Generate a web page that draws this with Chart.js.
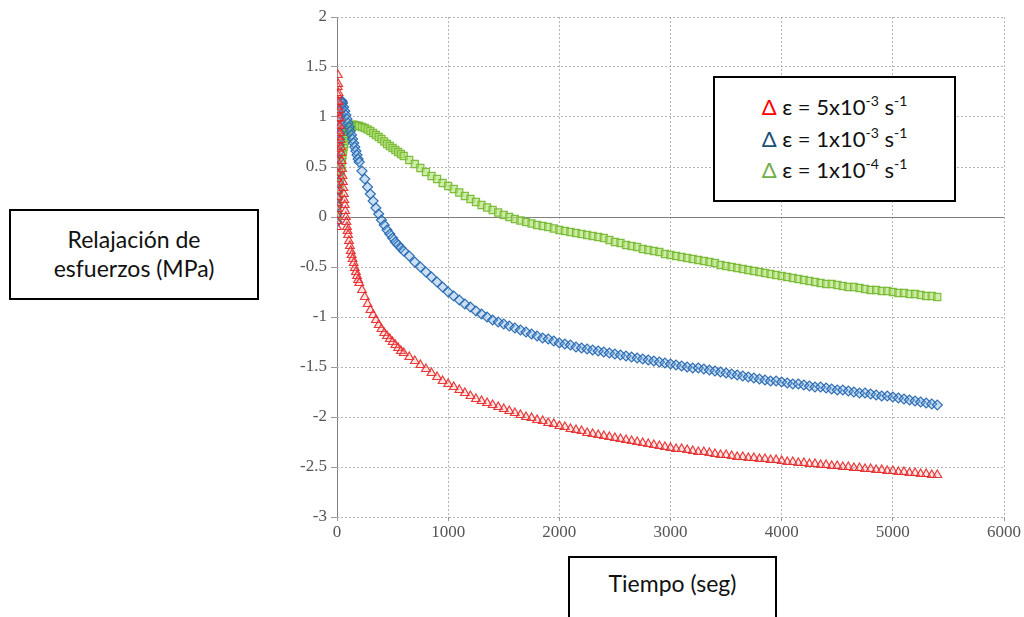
<!DOCTYPE html>
<html lang="es">
<head>
<meta charset="utf-8">
<title>Relajación de esfuerzos</title>
<script src="https://cdn.jsdelivr.net/npm/chart.js@4.4.1/dist/chart.umd.min.js"></script>
<style>
  body { margin: 0; background: #fff; }
  #wrap { position: relative; width: 1024px; height: 617px; overflow: hidden; }
  #relaxChart { position: absolute; left: 0; top: 0; }
  .box {
    position: absolute;
    box-sizing: border-box;
    border: 2px solid #000;
    background: #fff;
    font-family: Lato, "Noto Sans", sans-serif;
    color: #111;
    text-align: center;
  }
  #yBox { left: 9px; top: 209px; width: 250px; height: 91px; font-size: 23px; line-height: 29px; padding-top: 14px; }
  #xBox { left: 568px; top: 556px; width: 209px; height: 80px; font-size: 23px; line-height: 29px; padding-top: 11px; }
  #legendBox { left: 713px; top: 76px; width: 243px; height: 126px; font-size: 22px; line-height: 31.5px; padding-top: 13px; }
  #legendBox sup { font-size: 14px; vertical-align: 9px; line-height: 0; }
  .d1 { color: #ff0000; }
  .d2 { color: #1f4e79; }
  .d3 { color: #70ad47; }
</style>
</head>
<body>
<div id="wrap">
  <canvas id="relaxChart" width="1024" height="617"></canvas>
  <div class="box" id="yBox">Relajación de<br>esfuerzos (MPa)</div>
  <div class="box" id="xBox">Tiempo (seg)</div>
  <div class="box" id="legendBox">
    <span class="d1">Δ</span> ε = 5x10<sup>-3</sup> s<sup>-1</sup><br>
    <span class="d2">Δ</span> ε = 1x10<sup>-3</sup> s<sup>-1</sup><br>
    <span class="d3">Δ</span> ε = 1x10<sup>-4</sup> s<sup>-1</sup>
  </div>
</div>
<script>
// Carga inicial y primer descenso (t < 200 s), cada velocidad con sus tiempos
const redLoadTimes = [
  0, 0.3, 0.6, 0.9, 1.2, 1.5, 1.8, 2.1, 2.4, 2.7,
  3.0, 3.3, 3.6, 3.9, 4.2, 4.5, 4.8, 5.1, 5.4, 5.7,
  6.0, 6.3, 6.6, 7.0, 8, 11, 14, 17, 20, 23,
  26, 29, 32, 35, 38, 42, 46, 50, 54, 58,
  62, 66, 70, 75, 80, 85, 90, 95, 100, 108,
  116, 124, 132, 140, 150, 160, 170, 180, 190
];
const redLoad = [
  -0.10, -0.04, 0.02, 0.08, 0.14, 0.20, 0.26, 0.32, 0.38, 0.44,
  0.50, 0.56, 0.62, 0.68, 0.74, 0.80, 0.86, 0.92, 0.98, 1.04,
  1.10, 1.16, 1.22, 1.30, 1.42, 1.33, 1.24, 1.15, 1.07, 0.99,
  0.91, 0.84, 0.77, 0.70, 0.64, 0.56, 0.48, 0.41, 0.35, 0.29,
  0.23, 0.17, 0.12, 0.06, 0.00, -0.05, -0.10, -0.14, -0.18, -0.24,
  -0.29, -0.34, -0.38, -0.42, -0.46, -0.51, -0.55, -0.59, -0.63
];

const blueLoadTimes = [
  0, 2, 4, 6, 8, 10, 12, 14, 16, 18,
  20, 22, 24, 26, 28, 30, 32, 34, 36, 38,
  40, 42, 44, 50, 60, 70, 80, 90, 100, 110,
  120, 130, 140, 150, 160, 170, 180, 190
];
const blueLoad = [
  -0.05, 0.03, 0.11, 0.19, 0.27, 0.35, 0.43, 0.51, 0.58, 0.65,
  0.72, 0.78, 0.84, 0.90, 0.95, 0.99, 1.03, 1.07, 1.10, 1.12,
  1.14, 1.15, 1.16, 1.14, 1.10, 1.06, 1.02, 0.98, 0.94, 0.90,
  0.86, 0.82, 0.78, 0.74, 0.70, 0.66, 0.62, 0.58
];

const greenLoadTimes = [
  0, 5, 10, 15, 20, 25, 30, 35, 40, 45,
  50, 55, 60, 65, 70, 75, 80, 85, 90, 95,
  100, 105, 110, 115, 120, 125, 130, 135, 140, 145,
  160, 175, 190
];
const greenLoad = [
  0.00, 0.07, 0.14, 0.21, 0.28, 0.34, 0.40, 0.46, 0.52, 0.57,
  0.62, 0.66, 0.70, 0.73, 0.76, 0.79, 0.81, 0.83, 0.85, 0.86,
  0.87, 0.88, 0.89, 0.90, 0.905, 0.91, 0.915, 0.92, 0.92, 0.92,
  0.92, 0.915, 0.91
];

// Relajación (t >= 200 s), tiempos comunes a las tres curvas
const relaxTimes = [
  200, 225, 250, 275, 300, 325, 350, 375, 400, 425,
  450, 475, 500, 525, 550, 575, 600, 650,
  700, 750, 800, 850, 900, 950, 1000, 1050, 1100, 1150,
  1200, 1250, 1300, 1350, 1400, 1450, 1500, 1550, 1600, 1650,
  1700, 1750, 1800, 1850, 1900, 1950, 2000, 2050, 2100, 2150,
  2200, 2250, 2300, 2350, 2400, 2450, 2500, 2550, 2600, 2650,
  2700, 2750, 2800, 2850, 2900, 2950, 3000, 3050, 3100, 3150,
  3200, 3250, 3300, 3350, 3400, 3450, 3500, 3550, 3600, 3650,
  3700, 3750, 3800, 3850, 3900, 3950, 4000, 4050, 4100, 4150,
  4200, 4250, 4300, 4350, 4400, 4450, 4500, 4550, 4600, 4650,
  4700, 4750, 4800, 4850, 4900, 4950, 5000, 5050, 5100, 5150,
  5200, 5250, 5300, 5350, 5400
];

const redRelax = [
  -0.66, -0.73, -0.80, -0.87, -0.93, -0.98, -1.03, -1.08, -1.12, -1.16,
  -1.19, -1.22, -1.25, -1.28, -1.31, -1.34, -1.36, -1.40,
  -1.44, -1.48, -1.52, -1.56, -1.60, -1.64, -1.67, -1.70, -1.73, -1.76,
  -1.79, -1.82, -1.84, -1.86, -1.88, -1.90, -1.92, -1.94, -1.96, -1.98,
  -2.00, -2.01, -2.03, -2.04, -2.06, -2.07, -2.09, -2.10, -2.12, -2.13,
  -2.14, -2.16, -2.17, -2.18, -2.19, -2.20, -2.21, -2.22, -2.23, -2.24,
  -2.25, -2.26, -2.27, -2.28, -2.29, -2.30, -2.31, -2.32, -2.32, -2.33,
  -2.34, -2.35, -2.35, -2.36, -2.37, -2.38, -2.38, -2.39, -2.40, -2.40,
  -2.41, -2.41, -2.42, -2.42, -2.43, -2.43, -2.44, -2.45, -2.45, -2.46,
  -2.46, -2.47, -2.47, -2.48, -2.48, -2.49, -2.49, -2.50, -2.50, -2.51,
  -2.51, -2.52, -2.52, -2.53, -2.53, -2.54, -2.54, -2.55, -2.55, -2.56,
  -2.56, -2.57, -2.57, -2.58, -2.58
];

const blueRelax = [
  0.55, 0.46, 0.38, 0.30, 0.23, 0.16, 0.09, 0.03, -0.03, -0.08,
  -0.13, -0.17, -0.21, -0.25, -0.28, -0.31, -0.34, -0.39,
  -0.45, -0.50, -0.55, -0.60, -0.65, -0.70, -0.75, -0.79, -0.83, -0.87,
  -0.90, -0.94, -0.97, -1.00, -1.03, -1.05, -1.07, -1.09, -1.11, -1.13,
  -1.15, -1.17, -1.19, -1.21, -1.22, -1.24, -1.26, -1.27, -1.28, -1.30,
  -1.31, -1.32, -1.33, -1.34, -1.35, -1.36, -1.37, -1.38, -1.39, -1.40,
  -1.41, -1.42, -1.43, -1.44, -1.45, -1.46, -1.47, -1.48, -1.49, -1.50,
  -1.51, -1.51, -1.52, -1.53, -1.54, -1.55, -1.56, -1.57, -1.58, -1.59,
  -1.60, -1.61, -1.62, -1.63, -1.64, -1.64, -1.65, -1.66, -1.67, -1.67,
  -1.68, -1.69, -1.70, -1.70, -1.71, -1.72, -1.73, -1.73, -1.74, -1.75,
  -1.76, -1.76, -1.77, -1.78, -1.79, -1.79, -1.80, -1.81, -1.82, -1.83,
  -1.84, -1.85, -1.86, -1.87, -1.88
];

const greenRelax = [
  0.91, 0.90, 0.89, 0.875, 0.86, 0.84, 0.82, 0.80, 0.78, 0.755,
  0.73, 0.71, 0.69, 0.67, 0.65, 0.63, 0.61, 0.57,
  0.53, 0.49, 0.45, 0.41, 0.38, 0.34, 0.31, 0.28, 0.245, 0.21,
  0.18, 0.15, 0.12, 0.095, 0.07, 0.045, 0.02, 0.00, -0.02, -0.035,
  -0.05, -0.065, -0.08, -0.09, -0.10, -0.115, -0.13, -0.14, -0.15, -0.16,
  -0.17, -0.18, -0.19, -0.20, -0.21, -0.23, -0.25, -0.26, -0.28, -0.29,
  -0.30, -0.32, -0.33, -0.34, -0.35, -0.37, -0.38, -0.39, -0.40, -0.41,
  -0.42, -0.43, -0.44, -0.45, -0.46, -0.48, -0.49, -0.50, -0.51, -0.52,
  -0.53, -0.54, -0.55, -0.56, -0.57, -0.58, -0.59, -0.60, -0.61, -0.62,
  -0.63, -0.64, -0.65, -0.66, -0.67, -0.67, -0.68, -0.69, -0.70, -0.70,
  -0.71, -0.72, -0.73, -0.73, -0.74, -0.74, -0.75, -0.76, -0.76, -0.77,
  -0.77, -0.78, -0.79, -0.79, -0.80
];

// Ejes
const xTickStep = 1000;
const yTickStep = 0.5;

/**
 * Une la carga y la relajación en puntos {x, y}
 */
function buildPoints(loadTimes, loadVals, relaxVals) {
  const pts = loadTimes.map((t, i) => ({ x: t, y: loadVals[i] }));
  relaxTimes.forEach((t, i) => pts.push({ x: t, y: relaxVals[i] }));
  return pts;
}

// líneas de la cuadrícula: punteadas, salvo el cero
function gridDash(ctx) {
  return (ctx.tick && ctx.tick.value === 0) ? [] : [2, 2];
}
function gridColor(ctx) {
  return (ctx.tick && ctx.tick.value === 0) ? '#808080' : '#b4b4b4';
}

Chart.defaults.font.family = "'Liberation Serif', 'Times New Roman', serif";
const tickFont = { family: "'Liberation Serif', 'Times New Roman', serif", size: 17 };

new Chart(document.getElementById('relaxChart').getContext('2d'), {
  type: 'scatter',
  data: {
    datasets: [
      {
        label: '5x10-3',
        data: buildPoints(redLoadTimes, redLoad, redRelax),
        pointStyle: 'triangle',
        pointRadius: 5,
        borderWidth: 1.2,
        borderColor: 'rgba(228, 40, 40, 0.9)',
        backgroundColor: 'rgba(255, 150, 150, 0.25)'
      },
      {
        label: '1x10-3',
        data: buildPoints(blueLoadTimes, blueLoad, blueRelax),
        pointStyle: 'rectRot',
        pointRadius: 5,
        borderWidth: 1.2,
        borderColor: 'rgba(40, 105, 175, 0.95)',
        backgroundColor: 'rgba(110, 165, 225, 0.35)'
      },
      {
        label: '1x10-4',
        data: buildPoints(greenLoadTimes, greenLoad, greenRelax),
        pointStyle: 'rect',
        pointRadius: 5,
        borderWidth: 1.2,
        borderColor: 'rgba(120, 185, 55, 0.95)',
        backgroundColor: 'rgba(175, 225, 110, 0.6)'
      }
    ]
  },
  options: {
    responsive: false,
    animation: false,
    layout: { padding: { top: 17, right: 20, left: 0, bottom: 0 } },
    plugins: {
      legend: { display: false },
      tooltip: { enabled: false }
    },
    scales: {
      x: {
        type: 'linear',
        min: 0,
        max: 6000,
        ticks: {
          stepSize: xTickStep,
          font: tickFont,
          color: '#555',
          padding: 1,
          maxRotation: 0,
          callback: function (v) { return String(v); }
        },
        grid: { color: gridColor, lineWidth: 1, tickLength: 4, tickColor: '#999' },
        border: { display: false, dash: gridDash },
        afterFit: function (scale) { scale.height = 100; }
      },
      y: {
        min: -3,
        max: 2,
        ticks: {
          stepSize: yTickStep,
          font: tickFont,
          color: '#555',
          padding: 4,
          callback: function (v) { return String(Math.round(v * 10) / 10); }
        },
        grid: { color: gridColor, lineWidth: 1, tickLength: 6, tickColor: '#999' },
        border: { display: false, dash: gridDash },
        afterFit: function (scale) { scale.width = 337; }
      }
    }
  }
});
</script>
</body>
</html>
